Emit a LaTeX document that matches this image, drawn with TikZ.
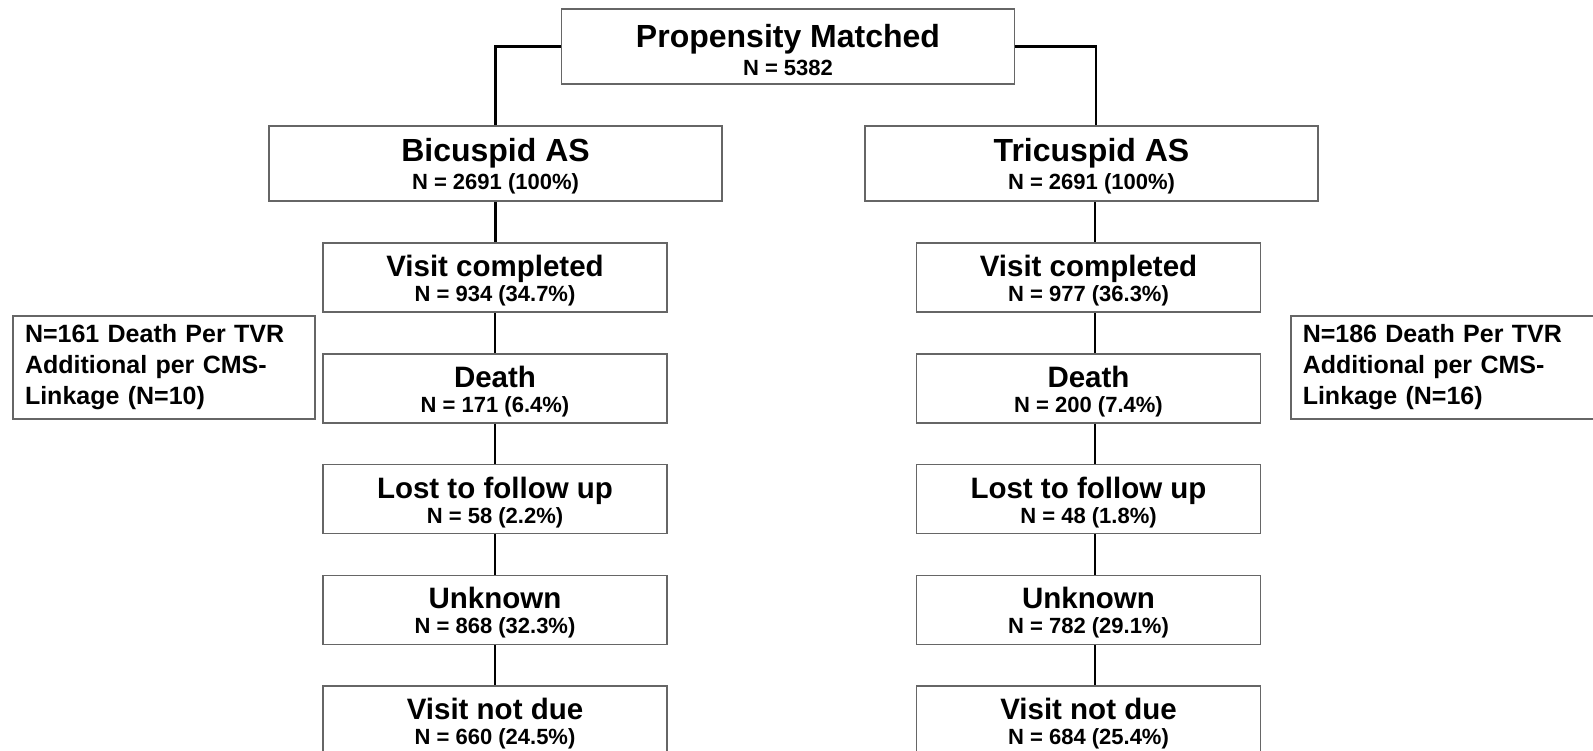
\documentclass[tikz,border=0pt]{standalone}
\usepackage{fontspec}
\setmainfont{Liberation Sans}
\usepackage{tikz}

\definecolor{boxgray}{gray}{0.4}
\newcommand{\hdfont}{\fontsize{32}{32}\selectfont\rule{0pt}{29.5pt}}
\newcommand{\subfont}{\fontsize{29.5}{29.5}\selectfont\rule{0pt}{28pt}}

\tikzset{
  bigbox/.style={draw=boxgray, line width=1.5pt, minimum width=453pt, minimum height=75pt, align=center, inner sep=0pt,
                 font=\fontsize{22}{28}\selectfont\bfseries},
  smallbox/.style={draw=boxgray, line width=1.5pt, minimum width=344pt, minimum height=69pt, align=center, inner sep=0pt,
                   font=\fontsize{22}{25}\selectfont\bfseries},
  notebox/.style={draw=boxgray, line width=1.5pt, inner xsep=12pt, inner ysep=0pt, minimum height=103pt, align=left,
                  font=\fontsize{25}{31}\selectfont\bfseries},
  link/.style={line width=2.5pt}
}

\begin{document}
\begin{tikzpicture}[x=1pt, y=-1pt]
      \clip (0, 0) rectangle (1593, 750);
      \fill[white] (0, 0) rectangle (1593, 750);

      \node[bigbox] (top) at (788, 46.5) {{\hdfont Propensity Matched}\\N = 5382};
      \node[bigbox] (bic) at (495.5, 163.5) {{\hdfont Bicuspid AS}\\N = 2691 (100\%)};
      \node[bigbox] (tric) at (1091.5, 163.5) {{\hdfont Tricuspid AS}\\N = 2691 (100\%)};

      \foreach \i/\lbl/\ln/\rn in {0/Visit completed/934 (34.7\%)/977 (36.3\%),
                                   1/Death/171 (6.4\%)/200 (7.4\%),
                                   2/Lost to follow up/58 (2.2\%)/48 (1.8\%),
                                   3/Unknown/868 (32.3\%)/782 (29.1\%),
                                   4/Visit not due/660 (24.5\%)/684 (25.4\%)} {
          \node[smallbox] (L\i) at (495, 277.5 + 110.75*\i) {{\subfont \lbl}\\N = \ln};
          \node[smallbox] (R\i) at (1088.5, 277.5 + 110.75*\i) {{\subfont \lbl}\\N = \rn};
      }

      \node[notebox, text width=278pt] (lnote) at (164, 367.5) {N=161 Death Per TVR\\Additional per CMS-\\Linkage (N=10)};
      \node[notebox, text width=296pt, anchor=west] (rnote) at (1290, 367.5) {N=186 Death Per TVR\\Additional per CMS-\\Linkage (N=16)};

      \draw[link] (top.west) -| (bic.north);
      \draw[link] (top.east) -| ([xshift=4.5pt]tric.north);
      \draw[link] (bic.south) -- (bic.south |- L0.north);
      \draw[link] ([xshift=3.5pt]tric.south) -- ([xshift=6.5pt]R0.north);
      \foreach \i/\j in {0/1, 1/2, 2/3, 3/4} {
          \draw[link] (L\i.south) -- (L\j.north);
          \draw[link] ([xshift=6.5pt]R\i.south) -- ([xshift=6.5pt]R\j.north);
      }
  \end{tikzpicture}
\end{document}
